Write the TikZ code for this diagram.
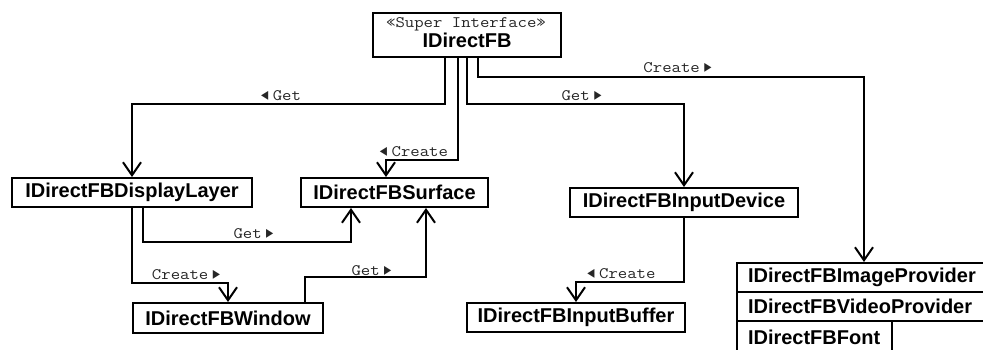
\documentclass[tikz,border=0pt]{standalone}
\usepackage{fontspec}
\usetikzlibrary{arrows.meta}
\newfontfamily\boxfont{Liberation Sans}
\newfontfamily\lblfont{Latin Modern Mono}[FakeStretch=1.14]
\newfontfamily\trifont{DejaVu Sans}
\newcommand{\tril}{\scalebox{0.55}[1.05]{\trifont\fontsize{17}{17}\selectfont ◄}\hspace{4.5pt}}
\newcommand{\trir}{\hspace{4.5pt}\scalebox{0.55}[1.05]{\trifont\fontsize{17}{17}\selectfont ►}}
\begin{document}
\begin{tikzpicture}[x=1pt,y=-1pt,
  cls/.style={draw, line width=2pt, inner sep=0pt, fill=white,
    font=\boxfont\bfseries\fontsize{20}{24}\selectfont, minimum height=29pt},
  stackbox/.style={cls, anchor=north west, align=left, inner xsep=11pt},
  lbl/.style={font=\lblfont\fontsize{16}{18}\selectfont, text=black!85, inner sep=0pt, anchor=base},
  conn/.style={line width=2pt, -{Straight Barb[length=13pt,width=18pt]}},
]
\clip (0,0) rectangle (983,349);
\fill[white] (0,0) rectangle (983,349);
% classes
\node[cls, minimum width=188pt, minimum height=44pt] (fb) at (467,35) {};
\node[lbl] (fbst) at (466,27) {«Super Interface»};
\node[anchor=base, inner sep=0pt, font=\boxfont\bfseries\fontsize{20}{24}\selectfont] (fbname) at (467,47) {IDirectFB};
\node[cls, minimum width=240pt] (dl) at (132,192.5) {IDirectFBDisplayLayer};
\node[cls, minimum width=187pt] (sf) at (394.5,192.5) {IDirectFBSurface};
\node[cls, minimum width=228pt] (id) at (684,202.5) {IDirectFBInputDevice};
\node[cls, minimum width=190pt, minimum height=30pt] (win) at (228,318) {IDirectFBWindow};
\node[cls, minimum width=218pt] (ib) at (576,317.5) {IDirectFBInputBuffer};
\node[stackbox, text width=238pt] (ip) at (736,262) {IDirectFBImageProvider};
\node[stackbox, text width=238pt] (vp) at (736,291) {IDirectFBVideoProvider};
\node[stackbox, text width=133pt, minimum height=33pt] (ft) at (736,320) {IDirectFBFont};
% connectors
\draw[conn] ([xshift=-22pt]fb.south) -- ++(0,46) -| (dl.north);
\draw[conn] ([xshift=-9pt]fb.south) -- ++(0,102) -| ([xshift=-8.5pt]sf.north);
\draw[conn] (fb.south) -- ++(0,46) -| (id.north);
\draw[conn] ([xshift=11pt]fb.south) -- ++(0,18.5) -| ([xshift=128pt]ip.north west);
\draw[conn] ([xshift=11pt]dl.south) -- ++(0,34) -| ([xshift=-43.5pt]sf.south);
\draw[conn] (dl.south) -- ++(0,75) -| (win.north);
\draw[conn] ([xshift=77pt]win.north) -- ++(0,-25) -| ([xshift=31.5pt]sf.south);
\draw[conn] (id.south) -- ++(0,64) -| (ib.north);
% labels
\node[lbl] (lget1) at (281,100) {\tril Get};
\node[lbl] (lcr1) at (414,156) {\tril Create};
\node[lbl] (lget2) at (581.5,100) {Get\trir};
\node[lbl] (lcr2) at (677.5,72.5) {Create\trir};
\node[lbl] (lget3) at (253.5,238) {Get\trir};
\node[lbl] (lcr3) at (186,279) {Create\trir};
\node[lbl] (lget4) at (371.5,275) {Get\trir};
\node[lbl] (lcr4) at (621.5,278) {\tril Create};
\end{tikzpicture}
\end{document}
